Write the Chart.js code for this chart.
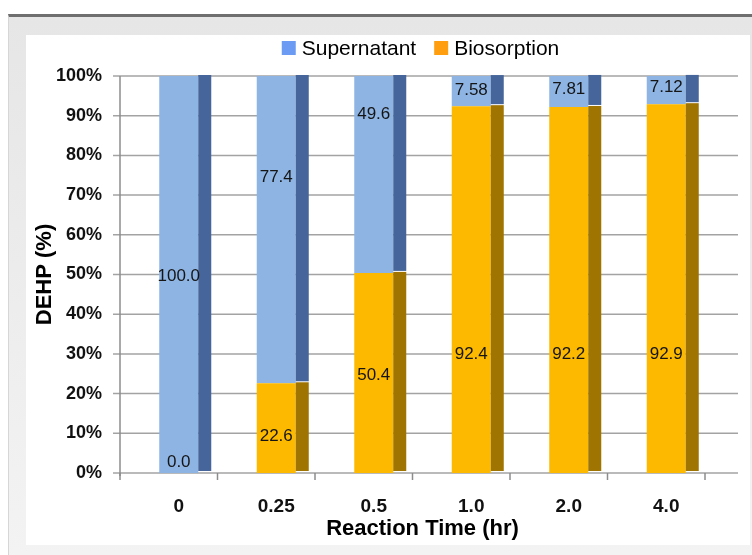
<!DOCTYPE html>
<html>
<head>
<meta charset="utf-8">
<script src="https://cdn.jsdelivr.net/npm/chart.js@4.4.0/dist/chart.umd.min.js"></script>
<style>
html, body { margin: 0; padding: 0; background: #fff; }
#frame { position: absolute; left: 8px; top: 14px; width: 744px; height: 541px; box-sizing: border-box;
         border-top: 3px solid #6f6f6f; border-left: 1px solid #d6d6d6;
         background: linear-gradient(#e6e6e6, #f3f3f3); }
#inner { position: absolute; left: 17px; top: 18px; right: 2px; bottom: 10px; background: #fff; }
#chart { position: absolute; left: 0; top: 0; }
</style>
</head>
<body>
<div id="frame"><div id="inner"></div></div>
<canvas id="chart" width="752" height="555"></canvas>
<script>
// data (% of DEHP)
const reactionTimes = ['0', '0.25', '0.5', '1.0', '2.0', '4.0'];
const biosorption = [0.0, 22.6, 50.4, 92.4, 92.2, 92.9];
const supernatant = [100.0, 77.4, 49.6, 7.58, 7.81, 7.12];
const yTicks = [0, 10, 20, 30, 40, 50, 60, 70, 80, 90, 100];

// labels in the picture are printed with these precisions
const bioText = ['0.0', '22.6', '50.4', '92.4', '92.2', '92.9'];
const supText = ['100.0', '77.4', '49.6', '7.58', '7.81', '7.12'];

// grid, axis line and floor ticks (drawn under the bars)
const frame3d = {
    id: 'frame3d',
    beforeDatasetsDraw(chart) {
        const ctx = chart.ctx;
        const y = chart.scales.y, x = chart.scales.x;
        const left = chart.chartArea.left - 10;
        const right = chart.chartArea.right + 23;
        ctx.save();
        ctx.strokeStyle = '#a3a3a3';
        ctx.lineWidth = 1.5;
        yTicks.forEach(v => {
            const py = y.getPixelForValue(v);
            ctx.beginPath();
            ctx.moveTo(left - 7, py);
            ctx.lineTo(right, py);
            ctx.stroke();
        });
        // vertical axis
        ctx.strokeStyle = '#8c8c8c';
        ctx.beginPath();
        ctx.moveTo(left, y.getPixelForValue(100));
        ctx.lineTo(left, y.getPixelForValue(0) + 3);
        ctx.stroke();
        // ticks under the floor, at category boundaries
        const step = x.getPixelForValue(1) - x.getPixelForValue(0);
        const base = y.getPixelForValue(0);
        for (let i = 0; i <= reactionTimes.length; i++) {
            const px = x.getPixelForValue(0) - step / 2 - 10 + i * step;
            ctx.beginPath();
            ctx.moveTo(px, base);
            ctx.lineTo(px, base + 7);
            ctx.stroke();
        }
        ctx.restore();
    }
};

// right-hand side faces of the bars
const sideFaces = {
    id: 'sideFaces',
    afterDatasetsDraw(chart, args, opts) {
        const ctx = chart.ctx;
        ctx.save();
        chart.data.datasets.forEach((ds, i) => {
            const meta = chart.getDatasetMeta(i);
            meta.data.forEach(bar => {
                const h = bar.base - bar.y;
                if (h <= 0) return;
                ctx.fillStyle = opts.colors[i];
                ctx.fillRect(bar.x + bar.width / 2, bar.y - 1, opts.depth, h - 1);
            });
        });
        ctx.restore();
    }
};

// value labels, placed at the heights they have in the figure
const segLabels = {
    id: 'segLabels',
    afterDatasetsDraw(chart, args, opts) {
        const ctx = chart.ctx;
        const y = chart.scales.y;
        ctx.save();
        ctx.font = '17px "Liberation Sans", Arial, sans-serif';
        ctx.fillStyle = '#151515';
        ctx.textAlign = 'center';
        ctx.textBaseline = 'middle';
        chart.data.datasets.forEach((ds, i) => {
            const meta = chart.getDatasetMeta(i);
            meta.data.forEach((bar, j) => {
                ctx.fillText(opts.texts[i][j], bar.x, y.getPixelForValue(opts.levels[i][j]));
            });
        });
        ctx.restore();
    }
};

// legend drawn centred over the plot area
const topLegend = {
    id: 'topLegend',
    afterDraw(chart, args, opts) {
        const ctx = chart.ctx;
        ctx.save();
        ctx.font = '21px "Liberation Sans", Arial, sans-serif';
        ctx.textBaseline = 'middle';
        ctx.textAlign = 'left';
        const items = chart.data.datasets.slice().reverse();
        const cols = opts.colors.slice().reverse();
        const box = 14, gap = 6, sep = 18;
        let total = 0;
        items.forEach((ds, k) => {
            total += box + gap + ctx.measureText(ds.label).width + (k ? sep : 0);
        });
        let px = (chart.chartArea.left + chart.chartArea.right) / 2 - total / 2 - 2;
        items.forEach((ds, k) => {
            if (k) px += sep;
            ctx.fillStyle = cols[k];
            ctx.fillRect(px, opts.y - box / 2, box, box);
            px += box + gap;
            ctx.fillStyle = '#000';
            ctx.fillText(ds.label, px, opts.y + 1);
            px += ctx.measureText(ds.label).width;
        });
        ctx.restore();
    }
};

const ctx = document.getElementById('chart').getContext('2d');

new Chart(ctx, {
    type: 'bar',
    data: {
        labels: reactionTimes,
        datasets: [
            { label: 'Biosorption', data: biosorption, backgroundColor: '#fcb900' },
            { label: 'Supernatant', data: supernatant, backgroundColor: '#8db4e3' }
        ]
    },
    options: {
        responsive: false,
        animation: false,
        events: [],
        layout: { padding: { top: 76, right: 37, bottom: 0, left: 0 } },
        datasets: { bar: { categoryPercentage: 1, barPercentage: 0.4 } },
        scales: {
            x: {
                stacked: true,
                grid: { display: false, drawTicks: false },
                border: { display: false },
                ticks: { color: '#111', padding: 22, font: { family: 'Arial', size: 19, weight: 'bold' } },
                title: { display: true, text: 'Reaction Time (hr)', color: '#000',
                         padding: { top: 0, bottom: 13 }, font: { family: 'Arial', size: 22, weight: 'bold' } },
                afterFit: s => { s.height = 82; }
            },
            y: {
                stacked: true,
                min: 0,
                max: 100,
                grid: { display: false, drawTicks: false },
                border: { display: false },
                ticks: { stepSize: 10, color: '#111', padding: 28,
                         font: { family: 'Arial', size: 18, weight: 'bold' },
                         callback: v => v + '%' },
                title: { display: true, text: 'DEHP (%)', color: '#000',
                         padding: { top: 32, bottom: 0 }, font: { family: 'Arial', size: 22, weight: 'bold' } },
                afterFit: s => { s.width = 130; }
            }
        },
        plugins: {
            legend: { display: false },
            tooltip: { enabled: false },
            sideFaces: { depth: 13, colors: ['#a07400', '#46669b'] },
            segLabels: {
                texts: [bioText, supText],
                levels: [[2.8, 9.3, 24.7, 30, 30, 30], [49.6, 74.6, 90.4, 96.5, 96.7, 97.2]]
            },
            topLegend: { y: 48, colors: ['#ff9f10', '#6b9bf3'] }
        }
    },
    plugins: [frame3d, sideFaces, segLabels, topLegend]
});
</script>
</body>
</html>
